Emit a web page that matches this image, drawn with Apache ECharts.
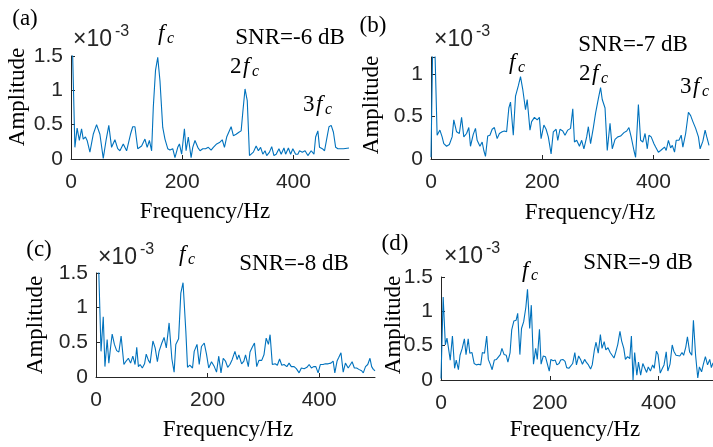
<!DOCTYPE html>
<html>
<head>
<meta charset="utf-8">
<script src="https://cdn.jsdelivr.net/npm/echarts@6/dist/echarts.min.js"></script>
<style>
  html, body { margin: 0; padding: 0; background: #fff; }
  #chart { width: 713px; height: 447px; }
</style>
</head>
<body>
<div id="chart"></div>
<script>
// amplitude spectra, [frequency in Hz, amplitude in 1e-3]
const specA = [
  [0, 1.55], [3, 1.5], [7, 0.17], [11, 0.45], [15, 0.27], [19, 0.44], [22, 0.29], [26, 0.32],
  [29, 0.27], [34, 0.1], [40, 0.36], [46, 0.5], [52, 0.36], [58, 0.01], [63, 0.27], [68, 0.49],
  [73, 0.17], [79, 0.28], [84, 0.15], [88, 0.12], [94, 0.22], [100, 0.12], [107, 0.36], [111, 0.47],
  [115, 0.47], [120, 0.15], [127, 0.19], [133, 0.29], [137, 0.17], [141, 0.27], [145, 0.12], [148, 0.75],
  [152, 1.29], [156, 1.48], [160, 1.14], [165, 0.46], [169, 0.29], [174, 0.15], [178, 0.13], [183, 0.15],
  [187, 0.02], [192, 0.17], [195, 0.22], [199, 0.07], [204, 0.44], [207, 0.12], [211, 0.32], [216, 0.02],
  [219, 0.17], [223, 0.27], [228, 0.17], [232, 0.12], [237, 0.15], [242, 0.15], [247, 0.17], [252, 0.13],
  [256, 0.17], [262, 0.22], [267, 0.24], [272, 0.28], [276, 0.17], [280, 0.32], [288, 0.47], [292, 0.34],
  [297, 0.36], [302, 0.39], [306, 0.41], [309, 0.68], [313, 1.02], [317, 0.85], [321, 0.05], [324, 0.07],
  [328, 0.1], [333, 0.19], [337, 0.12], [341, 0.17], [345, 0.07], [349, 0.12], [352, 0.05], [357, 0.1],
  [361, 0.18], [365, 0.05], [369, 0.07], [374, 0.15], [378, 0.07], [383, 0.16], [386, 0.07], [391, 0.16],
  [395, 0.07], [399, 0.15], [404, 0.07], [408, 0.07], [411, 0.12], [416, 0.1], [421, 0.12], [426, 0.05],
  [429, 0.07], [432, 0.12], [437, 0.07], [440, 0.32], [444, 0.41], [447, 0.17], [452, 0.15], [456, 0.12],
  [461, 0.34], [464, 0.47], [468, 0.49], [472, 0.39], [476, 0.17], [480, 0.15], [490, 0.15], [500, 0.16]
];

const specB = [
  [0, 0.02], [3, 1.3], [7, 1.3], [11, 0.28], [16, 0.34], [20, 0.26], [23, 0.18], [28, 0.15],
  [33, 0.17], [38, 0.26], [41, 0.46], [46, 0.32], [51, 0.3], [55, 0.49], [59, 0.26], [64, 0.3],
  [68, 0.37], [71, 0.15], [76, 0.29], [80, 0.36], [83, 0.22], [88, 0.15], [92, 0.2], [95, 0.1],
  [98, 0.03], [102, 0.27], [106, 0.28], [110, 0.35], [114, 0.37], [119, 0.24], [123, 0.3], [128, 0.32],
  [132, 0.33], [136, 0.32], [140, 0.6], [143, 0.67], [148, 0.28], [152, 0.74], [157, 0.86], [161, 0.97],
  [165, 0.82], [170, 0.58], [173, 0.7], [178, 0.34], [181, 0.44], [186, 0.49], [191, 0.46], [195, 0.49],
  [198, 0.24], [203, 0.4], [207, 0.35], [211, 0.26], [216, 0.06], [220, 0.32], [225, 0.35], [228, 0.22],
  [232, 0.35], [237, 0.33], [241, 0.28], [246, 0.34], [251, 0.36], [255, 0.59], [258, 0.2], [262, 0.22],
  [267, 0.15], [271, 0.22], [275, 0.12], [280, 0.26], [283, 0.38], [287, 0.18], [292, 0.37], [296, 0.54],
  [301, 0.71], [305, 0.84], [308, 0.7], [313, 0.6], [317, 0.1], [322, 0.42], [326, 0.12], [331, 0.23],
  [336, 0.26], [341, 0.27], [347, 0.31], [352, 0.33], [356, 0.37], [360, 0.26], [365, 0.1], [368, 0.02],
  [373, 0.64], [377, 0.22], [381, 0.2], [385, 0.3], [389, 0.12], [392, 0.28], [396, 0.26], [401, 0.18],
  [404, 0.14], [409, 0.08], [413, 0.1], [416, 0.08], [420, 0.14], [423, 0.1], [427, 0.22], [431, 0.13],
  [434, 0.16], [438, 0.08], [441, 0.22], [446, 0.22], [450, 0.28], [453, 0.14], [458, 0.3], [463, 0.55],
  [467, 0.51], [471, 0.44], [476, 0.36], [481, 0.26], [484, 0.12], [489, 0.21], [493, 0.34], [496, 0.26],
  [500, 0.16]
];

const specC = [
  [0, 1.52], [5, 1.52], [9, 0.37], [13, 0.87], [16, 0.15], [20, 0.54], [23, 0.2], [26, 0.42],
  [29, 0.62], [33, 0.47], [37, 0.38], [41, 0.36], [45, 0.59], [50, 0.18], [54, 0.23], [58, 0.27],
  [62, 0.2], [66, 0.3], [70, 0.18], [73, 0.43], [76, 0.15], [79, 0.18], [83, 0.13], [87, 0.19],
  [90, 0.33], [94, 0.24], [97, 0.2], [102, 0.52], [106, 0.42], [110, 0.22], [113, 0.37], [118, 0.49],
  [122, 0.57], [126, 0.42], [131, 0.78], [136, 0.26], [140, 0.07], [143, 0.47], [148, 0.55], [152, 1.21],
  [156, 1.36], [161, 0.66], [164, 0.14], [168, 0.17], [173, 0.13], [176, 0.37], [181, 0.47], [185, 0.18],
  [189, 0.44], [194, 0.49], [198, 0.33], [202, 0.13], [207, 0.22], [212, 0.15], [216, 0.07], [220, 0.3],
  [224, 0.06], [228, 0.27], [232, 0.23], [236, 0.14], [240, 0.18], [244, 0.25], [249, 0.37], [253, 0.25],
  [256, 0.32], [261, 0.19], [265, 0.23], [268, 0.32], [273, 0.15], [276, 0.36], [280, 0.43], [284, 0.49],
  [288, 0.15], [292, 0.24], [297, 0.24], [301, 0.32], [305, 0.56], [309, 0.47], [312, 0.61], [316, 0.18],
  [321, 0.19], [325, 0.17], [329, 0.26], [333, 0.17], [337, 0.18], [342, 0.15], [346, 0.2], [350, 0.15],
  [355, 0.15], [359, 0.12], [364, 0.06], [368, 0.13], [373, 0.12], [378, 0.14], [382, 0.18], [386, 0.13],
  [390, 0.15], [394, 0.15], [398, 0.06], [402, 0.18], [407, 0.18], [411, 0.19], [416, 0.19], [421, 0.2],
  [425, 0.23], [428, 0.06], [432, 0.23], [435, 0.28], [439, 0.35], [443, 0.07], [447, 0.2], [452, 0.13],
  [456, 0.18], [459, 0.22], [463, 0.13], [467, 0.13], [471, 0.11], [476, 0.09], [479, 0.06], [483, 0.15],
  [487, 0.18], [491, 0.27], [494, 0.15], [497, 0.11], [500, 0.09]
];

const specD = [
  [0, 0.02], [4, 1.21], [8, 0.51], [11, 0.61], [14, 0.63], [17, 0.29], [21, 0.64], [25, 0.17],
  [28, 0.29], [32, 0.15], [35, 0.36], [39, 0.46], [43, 0.6], [46, 0.37], [50, 0.6], [53, 0.39],
  [57, 0.4], [61, 0.24], [65, 0.22], [69, 0.23], [73, 0.22], [76, 0.4], [80, 0.39], [84, 0.64],
  [87, 0.3], [91, 0.22], [94, 0.15], [98, 0.29], [102, 0.3], [105, 0.32], [109, 0.37], [112, 0.46],
  [116, 0.37], [120, 0.36], [123, 0.26], [127, 0.4], [130, 0.73], [134, 0.86], [138, 0.87], [141, 0.97],
  [145, 0.37], [148, 0.75], [152, 0.85], [156, 1.06], [159, 1.32], [163, 0.75], [166, 1.09], [170, 0.23],
  [174, 0.46], [177, 0.3], [181, 0.74], [184, 0.23], [188, 0.35], [192, 0.34], [195, 0.36], [199, 0.13],
  [202, 0.3], [206, 0.28], [210, 0.29], [213, 0.22], [217, 0.24], [220, 0.29], [224, 0.3], [228, 0.27],
  [231, 0.18], [235, 0.17], [238, 0.19], [242, 0.24], [246, 0.4], [249, 0.22], [253, 0.35], [257, 0.29],
  [260, 0.23], [264, 0.3], [267, 0.26], [271, 0.22], [275, 0.16], [278, 0.22], [282, 0.44], [285, 0.55],
  [289, 0.39], [293, 0.66], [296, 0.46], [300, 0.56], [303, 0.44], [307, 0.47], [311, 0.4], [314, 0.41],
  [318, 0.32], [321, 0.4], [325, 0.52], [329, 0.71], [332, 0.57], [336, 0.46], [339, 0.3], [343, 0.34],
  [347, 0.31], [350, 0.64], [353, 0.0], [356, 0.4], [360, 0.07], [363, 0.26], [367, 0.07], [371, 0.24],
  [374, 0.22], [378, 0.11], [381, 0.19], [385, 0.13], [389, 0.22], [392, 0.17], [396, 0.42], [399, 0.37],
  [403, 0.1], [407, 0.17], [410, 0.22], [414, 0.41], [417, 0.13], [421, 0.23], [425, 0.51], [428, 0.42],
  [432, 0.36], [435, 0.37], [439, 0.35], [443, 0.4], [446, 0.36], [450, 0.48], [453, 0.63], [457, 0.41],
  [461, 0.36], [464, 0.87], [468, 0.36], [472, 0.03], [475, 0.19], [479, 0.12], [482, 0.22], [486, 0.34],
  [490, 0.22], [494, 0.3], [497, 0.18], [500, 0.25]
];

const spectra = [specA, specB, specC, specD];
const panelTags = ['(a)', '(b)', '(c)', '(d)'];
const snrLabels = ['SNR=-6 dB', 'SNR=-7 dB', 'SNR=-8 dB', 'SNR=-9 dB'];
const yMax = [1.5, 1.2, 1.5, 1.5];
const xTitle = 'Frequency/Hz';
const yTitle = 'Amplitude';

const chart = echarts.init(document.getElementById('chart'), null, { renderer: 'canvas' });

const axisColor = '#262626';
const lineColor = '#0072BD';
const serif = "'Times New Roman', 'Liberation Serif', serif";
const sans = "Arial, 'Liberation Sans', sans-serif";

const grids = [
  { left: 71, top: 56, width: 278, height: 103 },
  { left: 431, top: 57, width: 278, height: 102 },
  { left: 96, top: 273, width: 279, height: 104 },
  { left: 441, top: 277, width: 279, height: 103 }
];

// text placement per panel
const layout = [
  { tag: [25, 19], snr: [290, 38], ampl: [18, 97], freq: [205, 212], exp: [73, 51], harm: [[157, 43, ''], [230, 76, '2'], [303, 114, '3']] },
  { tag: [373, 26], snr: [633, 45], ampl: [372, 105], freq: [590, 213], exp: [434, 51], harm: [[508, 72, ''], [579, 83, '2'], [680, 96, '3']] },
  { tag: [39, 250], snr: [294, 264], ampl: [36, 325], freq: [228, 430], exp: [98, 269], harm: [[178, 264, '']] },
  { tag: [395, 244], snr: [638, 263], ampl: [394, 325], freq: [575, 430], exp: [444, 268], harm: [[521, 280, '']] }
];

const txt = (x, y, text, font, extra) => ({
  type: 'text',
  x,
  y,
  silent: true,
  style: Object.assign(
    { text, fill: '#000', font, textAlign: 'center', textVerticalAlign: 'middle' },
    extra || {}
  )
});

const graphics = [];
layout.forEach((p, i) => {
  graphics.push(txt(p.tag[0], p.tag[1], panelTags[i], `23px ${serif}`));
  graphics.push(txt(p.snr[0], p.snr[1], snrLabels[i], `23px ${serif}`));
  graphics.push(txt(p.freq[0], p.freq[1], xTitle, `23px ${serif}`));
  graphics.push(
    Object.assign(txt(p.ampl[0], p.ampl[1], yTitle, `23px ${serif}`), { rotation: Math.PI / 2 })
  );
  // x10^-3 exponent marker
  graphics.push(
    txt(p.exp[0], p.exp[1], '\u00d710', `23px ${sans}`, { fill: axisColor, textAlign: 'left', textVerticalAlign: 'bottom' })
  );
  graphics.push(
    txt(p.exp[0] + 42, p.exp[1] - 11, '-3', `16px ${sans}`, { fill: axisColor, textAlign: 'left', textVerticalAlign: 'bottom' })
  );
  // harmonic markers: n f_c
  p.harm.forEach(([hx, hy, n]) => {
    let cx = hx;
    if (n) {
      graphics.push(txt(cx, hy + 2, n, `23px ${serif}`, { textAlign: 'left', textVerticalAlign: 'bottom' }));
      cx += 12;
    }
    graphics.push(txt(cx + 1, hy + 2, 'f', `italic 23px ${serif}`, { textAlign: 'left', textVerticalAlign: 'bottom' }));
    graphics.push(txt(cx + 10, hy + 4, 'c', `italic 16px ${serif}`, { textAlign: 'left', textVerticalAlign: 'bottom' }));
  });
});

const option = {
  animation: false,
  backgroundColor: '#fff',
  grid: grids,
  xAxis: grids.map((g, i) => ({
    type: 'value',
    gridIndex: i,
    min: 0,
    max: 500,
    interval: 200,
    axisLine: { show: true, onZero: false, lineStyle: { color: axisColor, width: 1 } },
    axisTick: { show: true, inside: true, length: 4, lineStyle: { color: axisColor } },
    axisLabel: { color: axisColor, fontSize: 21, fontFamily: sans, margin: 13, showMaxLabel: false },
    splitLine: { show: false }
  })),
  yAxis: grids.map((g, i) => ({
    type: 'value',
    gridIndex: i,
    min: 0,
    max: yMax[i],
    interval: 0.5,
    axisLine: { show: true, lineStyle: { color: axisColor, width: 1 } },
    axisTick: { show: true, inside: true, length: 4, lineStyle: { color: axisColor } },
    axisLabel: {
      color: axisColor,
      fontSize: 21,
      fontFamily: sans,
      margin: 8,
      formatter: v => (Math.abs(v * 2 - Math.round(v * 2)) < 1e-6 ? String(v) : '')
    },
    splitLine: { show: false }
  })),
  series: spectra.map((d, i) => ({
    type: 'line',
    xAxisIndex: i,
    yAxisIndex: i,
    data: d,
    showSymbol: false,
    clip: true,
    lineStyle: { color: lineColor, width: 1.1 },
    itemStyle: { color: lineColor }
  })),
  graphic: graphics
};

chart.setOption(option);
</script>
</body>
</html>
